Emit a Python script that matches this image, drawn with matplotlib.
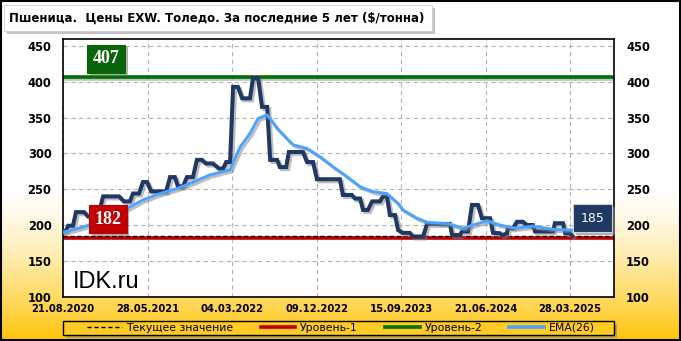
import numpy as np
import pandas as pd
import matplotlib
matplotlib.use("Agg")
import matplotlib.pyplot as plt
import matplotlib.patheffects as pe
from matplotlib.patches import Rectangle
from matplotlib.lines import Line2D
from matplotlib.transforms import IdentityTransform

# ---------------- data ----------------
start_date = "2020-08-21"
end_date = "2025-08-22"

price_days = [0, 9, 16, 32, 42, 69, 82, 115, 132, 185, 201, 221, 231, 251, 264, 278,
              291, 341, 354, 370, 380, 397, 410, 430, 443, 460, 473, 496, 516, 530,
              540, 553, 563, 579, 593, 619, 629, 646, 659, 676, 686, 709, 718, 739,
              748, 795, 808, 828, 841, 917, 927, 957, 967, 984, 994, 1010, 1024, 1050,
              1060, 1073, 1083, 1100, 1110, 1126, 1149, 1159, 1193, 1206, 1282, 1289,
              1315, 1322, 1342, 1355, 1375, 1388, 1415, 1425, 1448, 1454, 1471, 1474,
              1491, 1504, 1524, 1537, 1557, 1564, 1624, 1630, 1657, 1664, 1680, 1687]
price_values = [191, 192, 199, 199, 218, 218, 212, 212, 240, 240, 233, 233, 244, 244, 260, 260,
                247, 247, 267, 267, 254, 254, 267, 267, 291, 291, 286, 286, 279, 279,
                288, 288, 393, 393, 377, 377, 405, 405, 365, 365, 291, 291, 281, 281,
                302, 302, 288, 288, 264, 264, 242, 242, 237, 237, 221, 221, 233, 233,
                240, 240, 214, 214, 193, 189, 189, 184, 184, 201.5, 201.5, 186,
                186, 191, 191, 228, 228, 209.5, 209.5, 189, 188.5, 186, 188, 195.5,
                195.5, 204.5, 204.5, 200, 200, 191, 191, 202.5, 202.5, 188.5, 188.5, 185]

ema_days = [0, 39, 79, 122, 165, 211, 264, 321, 377, 420, 486, 553, 586, 619, 646, 676,
            709, 745, 762, 808, 851, 894, 941, 984, 1027, 1073, 1110, 1126, 1173, 1206,
            1282, 1325, 1358, 1405, 1448, 1481, 1504, 1557, 1624, 1687]
ema_values = [190, 194, 199, 207, 215, 223, 235, 244, 251, 258, 270, 277, 309, 328, 349, 354,
              335, 319, 312, 307, 295.5, 281.5, 267.5, 253.5, 246.5, 244, 230, 221, 209.5, 204,
              201.5, 195.5, 200, 206, 200, 197, 195.5, 198.5, 194, 193]

current_value = 185
level1_value = 182
level2_value = 407

x_tick_labels = ["21.08.2020", "28.05.2021", "04.03.2022", "09.12.2022",
                 "15.09.2023", "21.06.2024", "28.03.2025"]
y_ticks = [100, 150, 200, 250, 300, 350, 400, 450]
title_text = "Пшеница.  Цены EXW. Толедо. За последние 5 лет ($/тонна)"
legend_labels = ["Текущее значение", "Уровень-1", "Уровень-2", "EMA(26)"]
watermark = "IDK.ru"

# ---------------- colours ----------------
C_PRICE = "#1F3864"
C_EMA = "#4AA3FF"
C_L1 = "#C00000"
C_L2 = "#007000"
C_L2_BOX = "#0A650A"

W, H = 681, 341
def fx(x): return x / W
def fy(y): return 1 - y / H

fig = plt.figure(figsize=(W / 100, H / 100), dpi=100)

# background gradient
bg = fig.add_axes([0, 0, 1, 1], zorder=-10)
bg.set_axis_off()
t = np.linspace(0, 1, H)
s = np.clip((t - 0.55) / 0.45, 0, 1) ** 1.4
top = np.array([1.0, 1.0, 1.0])
bot = np.array([1.0, 0.77, 0.03])
grad = top[None, :] * (1 - s[:, None]) + bot[None, :] * s[:, None]
img = np.repeat(grad[:, None, :], 10, axis=1)
bg.imshow(img, aspect="auto", extent=[0, 1, 0, 1], origin="upper")
bg.set_xlim(0, 1); bg.set_ylim(0, 1)

# outer border
fig.patches.append(Rectangle((0.0015, 0.003), 0.997, 0.994, transform=fig.transFigure,
                             fill=False, edgecolor="black", lw=1.5, zorder=5))

# title box
fig.patches.append(Rectangle((fx(7), fy(34)), fx(428), 26 / H, transform=fig.transFigure,
                             facecolor="#9a9a9a", edgecolor="none", alpha=0.6, zorder=1))
fig.patches.append(Rectangle((fx(4), fy(31)), fx(428), 26 / H, transform=fig.transFigure,
                             facecolor="white", edgecolor="#d0d0d0", lw=0.6, zorder=2))
fig.text(fx(9), fy(18.5), title_text, fontsize=8.45, fontweight="bold",
         ha="left", va="center", color="black", zorder=3, family="DejaVu Sans")

# main axes
ax = fig.add_axes([fx(63.3), fy(297.3), 551 / W, 258 / H])
ax.set_facecolor("white")

t0 = pd.Timestamp(start_date)
price_x = t0 + pd.to_timedelta(price_days, unit="D")
ema_x = t0 + pd.to_timedelta(ema_days, unit="D")
xticks = pd.to_datetime(x_tick_labels, format="%d.%m.%Y")

ax.set_xlim(t0, pd.Timestamp(end_date))
ax.set_ylim(99, 459.5)
ax.set_yticks(y_ticks)
ax.set_xticks(xticks)
ax.set_xticklabels(x_tick_labels)
ax.grid(True, color="#b4b4b4", ls=(0, (4, 3)), lw=0.8, zorder=0)
ax.set_axisbelow(True)
ax.tick_params(axis="y", length=0, pad=8.5, labelsize=8.3, labelleft=True, labelright=True)
ax.tick_params(axis="x", length=0, pad=5, labelsize=7.2)
for lab in ax.get_xticklabels():
    lab.set_fontweight("bold")
for tk in ax.yaxis.get_major_ticks():
    tk.label1.set_fontweight("bold")
    tk.label2.set_fontweight("bold")
for sp in ax.spines.values():
    sp.set_color("black")
    sp.set_linewidth(1.2)

shadow = [pe.SimpleLineShadow(offset=(1.5, -1.5), shadow_color="#7f7f7f", alpha=0.5), pe.Normal()]

ax.axhline(level2_value, color=C_L2, lw=2.6, zorder=2, path_effects=shadow)
ax.axhline(level1_value, color=C_L1, lw=2.6, zorder=2)
ax.axhline(current_value, color="black", lw=1.0, ls=(0, (3, 2)), zorder=3)

ax.plot(price_x, price_values, color=C_PRICE, lw=2.9, zorder=4,
        solid_joinstyle="miter", path_effects=shadow)
ax.plot(ema_x, ema_values, color=C_EMA, lw=2.1, zorder=5, path_effects=shadow)

# value boxes
boxes = []
def value_box(xa, ya, txt, fc, family, size, weight, pad, ec):
    tx = ax.text(xa, ya, txt, transform=ax.transAxes, ha="center", va="center", fontsize=size,
                 fontweight=weight, family=family, color="white", zorder=7,
                 bbox=dict(boxstyle=f"square,pad={pad}", fc=fc, ec=ec, lw=0.8))
    boxes.append(tx)

value_box(0.078, 0.924, str(level2_value), C_L2_BOX, "Liberation Serif", 13, "bold", 0.3, C_L2_BOX)
value_box(0.081, 0.302, str(level1_value), C_L1, "Liberation Serif", 13, "bold", 0.3, C_L1)
value_box(0.961, 0.307, str(current_value), C_PRICE, "DejaVu Sans", 9, "normal", 0.6, "#d0d0d0")

ax.text(0.017, 0.035, watermark, transform=ax.transAxes, ha="left", va="baseline",
        fontsize=17, family="Liberation Sans", color="black", zorder=6)

# legend box
leg_s = np.clip((328 / H - 0.55) / 0.45, 0, 1) ** 1.4
leg_fc = tuple(top * (1 - leg_s) + bot * leg_s)
fig.patches.append(Rectangle((fx(66), fy(338)), 551 / W, 14.5 / H, transform=fig.transFigure,
                             facecolor="#8a8a8a", edgecolor="none", alpha=0.6, zorder=1))
fig.patches.append(Rectangle((fx(63), fy(335)), 551 / W, 14.5 / H, transform=fig.transFigure,
                             facecolor=leg_fc, edgecolor="black", lw=1.0, zorder=2))
handles = [Line2D([], [], color="black", lw=1.0, ls=(0, (3, 2))),
           Line2D([], [], color=C_L1, lw=2.6),
           Line2D([], [], color=C_L2, lw=2.6),
           Line2D([], [], color=C_EMA, lw=2.6)]
leg = fig.legend(handles, legend_labels, loc="center", bbox_to_anchor=(fx(341), fy(328)),
                 ncol=4, frameon=False, fontsize=7.8, handlelength=3.2, handletextpad=0.45,
                 columnspacing=2.5, borderpad=0, borderaxespad=0)
leg.set_zorder(3)

# shadows behind value boxes (drawn as plain rectangles in pixel space)
fig.canvas.draw()
for tx in boxes:
    bb = tx.get_bbox_patch().get_window_extent()
    ax.add_artist(Rectangle((bb.x0 + 2.5, bb.y0 - 2.5), bb.width, bb.height,
                            transform=IdentityTransform(), facecolor="#808080",
                            edgecolor="none", alpha=0.6, zorder=6.5, clip_on=False))

fig.savefig("out.png", dpi=100)
